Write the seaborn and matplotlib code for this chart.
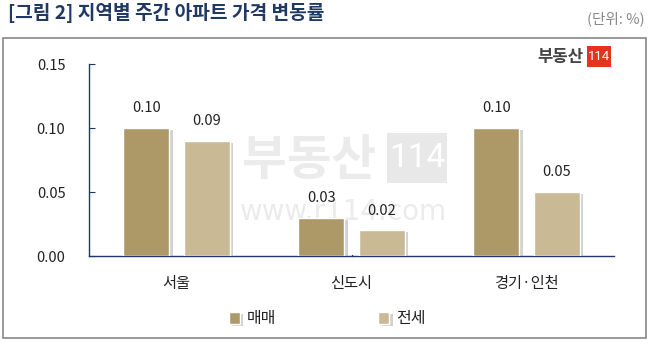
import matplotlib
matplotlib.use("Agg")
import matplotlib.pyplot as plt
import matplotlib.patheffects as pe
from matplotlib.patches import Rectangle
import seaborn as sns
import pandas as pd

categories = ["서울", "신도시", "경기·인천"]
series_names = ["매매", "전세"]
sale = [0.10, 0.03, 0.10]
jeonse = [0.09, 0.02, 0.05]
yticks = [0.00, 0.05, 0.10, 0.15]

df = pd.DataFrame({
    "region": categories * 2,
    "type": [series_names[0]] * 3 + [series_names[1]] * 3,
    "value": sale + jeonse,
})

sns.set_style("white")
plt.rcParams["font.family"] = ["Noto Sans CJK KR", "DejaVu Sans"]

W, H = 649, 344
fig = plt.figure(figsize=(W / 100, H / 100), dpi=100)
ax = fig.add_axes([89 / W, 1 - 256 / H, (614 - 89) / W, (256 - 64) / H])

colors = ["#AD9868", "#CAB995"]
sns.barplot(data=df, x="region", y="value", hue="type", palette=colors, saturation=1,
            width=0.692, gap=0.24, ax=ax, zorder=3, legend=True)

for p in ax.patches:
    p.set_path_effects([pe.SimplePatchShadow(offset=(2.5, -1.5), shadow_rgbFace="#999999", alpha=0.45),
                        pe.Normal()])

for c in ax.containers:
    ax.bar_label(c, fmt="%.2f", padding=9, fontsize=10.5, color="#222222", zorder=4)

ax.set_ylim(0, 0.15)
ax.set_yticks(yticks)
ax.set_yticklabels([f"{v:.2f}" for v in yticks], fontsize=10.5, color="#222222")
ax.set_xlim(-0.5, 2.5)
ax.set_xlabel("")
ax.set_ylabel("")
navy = "#1F3868"
for s in ["top", "right"]:
    ax.spines[s].set_visible(False)
for s in ["left", "bottom"]:
    ax.spines[s].set_color(navy)
    ax.spines[s].set_linewidth(1.0)
ax.tick_params(axis="y", direction="in", length=4, color=navy, pad=17, left=True)
ax.tick_params(axis="x", length=0, pad=14, labelsize=11, labelcolor="#222222")
ax.plot([1, 1], [0, 0.006], transform=ax.get_xaxis_transform(), color=navy, lw=1.0, clip_on=False)

# legend
handles, labels = ax.get_legend_handles_labels()
leg = ax.legend(handles, labels, loc="center", bbox_to_anchor=(327 / W, 1 - 319 / H),
                bbox_transform=fig.transFigure, ncol=2, frameon=False, fontsize=11.5,
                handlelength=0.7, handleheight=0.7, handletextpad=0.4, columnspacing=6.4)
for t in leg.get_texts():
    t.set_color("#222222")

# watermark
ax.text(309 / W, 1 - 161 / H, "부동산", transform=fig.transFigure, fontsize=35, fontweight="bold",
        color="#EBEBEB", ha="center", va="center", zorder=0)
fig.patches.append(Rectangle((387 / W, 1 - 183 / H), 60 / W, 50 / H, transform=fig.transFigure,
                             facecolor="#E8E8E8", edgecolor="none", zorder=0))
fig.text(417 / W, 1 - 158 / H, "114", fontsize=24, color="white", ha="center", va="center",
         family="Roboto", zorder=0.5)
ax.text(343 / W, 1 - 212 / H, "www.r114.com", transform=fig.transFigure, fontsize=20,
        color="#EBEBEB", ha="center", va="center", family="DejaVu Sans", zorder=0)

# title & unit
fig.text(8 / W, 1 - 13 / H, "[그림 2] 지역별 주간 아파트 가격 변동률", fontsize=13.8, fontweight="bold",
         color="#1F3864", ha="left", va="center")
fig.text(645 / W, 1 - 19 / H, "(단위: %)", fontsize=10.5, color="#888888", ha="right", va="center")

# frame
fig.patches.append(Rectangle((3 / W, 1 - 338 / H), 643 / W, 300 / H, transform=fig.transFigure,
                             facecolor="none", edgecolor="#888888", lw=1.2, zorder=10))

# logo
fig.text(583 / W, 1 - 57 / H, "부동산", fontsize=12, fontweight="bold", color="#444444",
         ha="right", va="center")
fig.patches.append(Rectangle((587 / W, 1 - 67 / H), 24 / W, 21 / H, transform=fig.transFigure,
                             facecolor="#E53322", edgecolor="none", zorder=5))
fig.text(599 / W, 1 - 57 / H, "114", fontsize=9.5, color="white", ha="center", va="center",
         family="Roboto", zorder=6)

fig.savefig("out.png", dpi=100)
